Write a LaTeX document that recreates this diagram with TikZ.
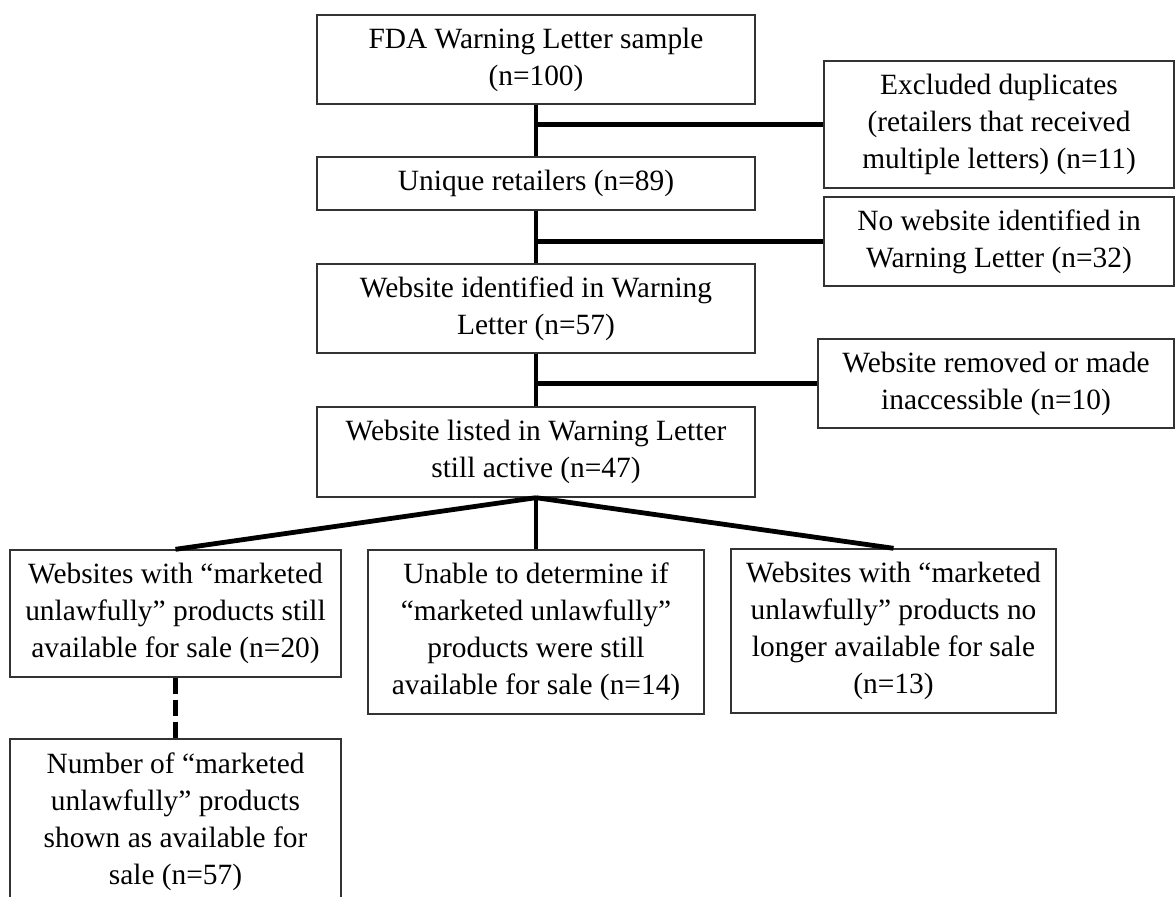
\documentclass[tikz,border=0pt]{standalone}
\usepackage{fontspec}
\setmainfont{Liberation Serif}

\begin{document}
\begin{tikzpicture}[x=0.5pt,y=-0.5pt,
    box/.style={draw=black!80, line width=0.7pt, align=center, inner sep=0pt,
        font=\fontsize{14.7}{18.5}\selectfont},
    link/.style={line width=2.4pt},
    dashlink/.style={line width=2.4pt, dash pattern=on 8pt off 3pt}]
    \clip (0,0) rectangle (1176,897);

    % Main column
    \node[box, minimum width=219pt, minimum height=44.5pt] (s1) at (536,59.5) {FDA Warning Letter sample\\(n=100)};
    \node[box, minimum width=219pt, minimum height=26.5pt] (s2) at (536,183.5) {Unique retailers (n=89)};
    \node[box, minimum width=219pt, minimum height=44.5pt] (s3) at (536,308.5) {Website identified in Warning\\Letter (n=57)};
    \node[box, minimum width=219pt, minimum height=45pt] (s4) at (536,452) {Website listed in Warning Letter\\still active (n=47)};

    % Exclusions on the right
    \node[box, minimum width=175pt, minimum height=63.5pt] (x1) at (999,124.5) {Excluded duplicates\\(retailers that received\\multiple letters) (n=11)};
    \node[box, minimum width=175pt, minimum height=44.5pt] (x2) at (999,241.5) {No website identified in\\Warning Letter (n=32)};
    \node[box, minimum width=178pt, minimum height=44.5pt] (x3) at (996,383.5) {Website removed or made\\inaccessible (n=10)};

    % Outcomes
    \node[box, minimum width=165.5pt, minimum height=63.5pt] (o1) at (175.5,613.5) {Websites with “marketed\\unlawfully” products still\\available for sale (n=20)};
    \node[box, minimum width=168pt, minimum height=82pt] (o2) at (536,632) {Unable to determine if\\“marketed unlawfully”\\products were still\\available for sale (n=14)};
    \node[box, minimum width=162.5pt, minimum height=82pt] (o3) at (893.5,631) {Websites with “marketed\\unlawfully” products no\\longer available for sale\\(n=13)};
    \node[box, minimum width=165.5pt, minimum height=83pt] (p1) at (175.5,822) {Number of “marketed\\unlawfully” products\\shown as available for\\sale (n=57)};

    % Trunk and side branches
    \draw[link] (s1.south) -- (s2.north);
    \draw[link] (s2.south) -- (s3.north);
    \draw[link] (s3.south) -- (s4.north);
    \draw[link] (s1.south |- x1.west) -- (x1.west);
    \draw[link] (s2.south |- x2.west) -- (x2.west);
    \draw[link] (s3.south |- x3.west) -- (x3.west);

    % Fan to outcomes
    \draw[link] (s4.south) -- (o1.north);
    \draw[link] (s4.south) -- (o2.north);
    \draw[link] (s4.south) -- (o3.north);
    \draw[dashlink] (o1.south) -- (p1.north);
\end{tikzpicture}
\end{document}
